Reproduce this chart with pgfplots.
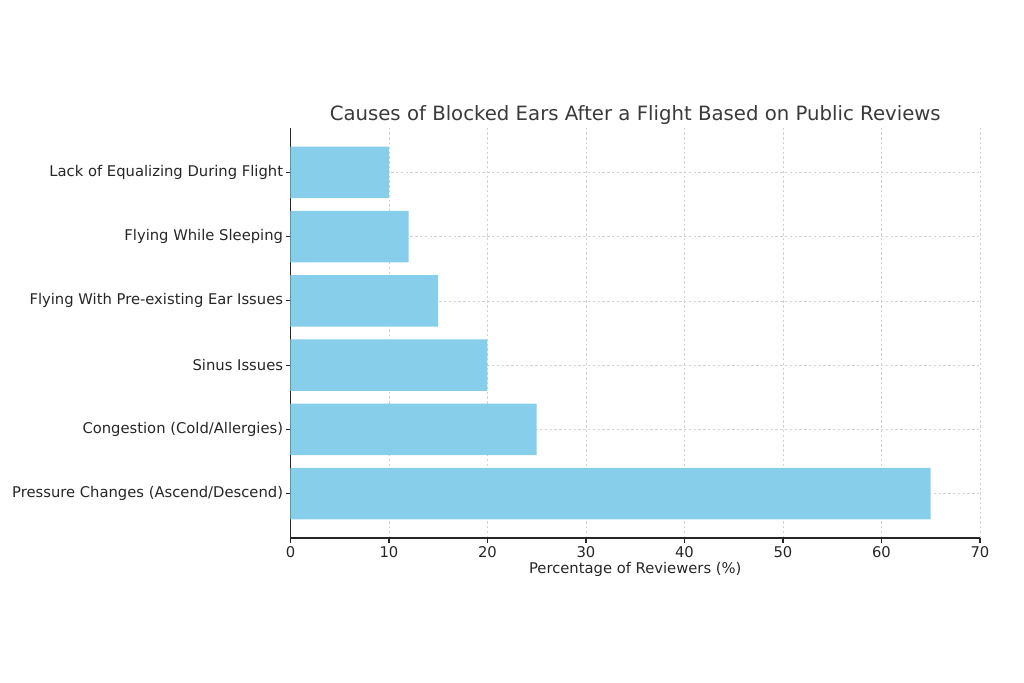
\documentclass[border=0pt]{standalone}
\usepackage{fontspec}
\setmainfont{DejaVu Sans}
\usepackage{pgfplots}
\pgfplotsset{compat=1.18}
\definecolor{skyblue}{HTML}{87CEEB}
\definecolor{txt}{HTML}{262626}
\definecolor{ttl}{HTML}{3A3A3A}
\begin{document}
\begin{tikzpicture}
\useasboundingbox (0,0) rectangle (512pt,341pt);
\begin{axis}[
  at={(145.25pt,72pt)}, anchor=south west,
  scale only axis, width=344.75pt, height=205pt,
  xmin=0, xmax=70, ymin=-0.69, ymax=5.69,
  xbar, bar width=0.8,
  axis lines*=left,
  axis line style={line width=0.56pt, color=txt},
  ytick={0,1,2,3,4,5},
  yticklabels={Pressure Changes (Ascend/Descend),Congestion (Cold/Allergies),Sinus Issues,Flying With Pre-existing Ear Issues,Flying While Sleeping,Lack of Equalizing During Flight},
  xtick={0,10,...,70},
  tick align=outside, major tick length=2.43pt,
  tick style={line width=0.56pt, color=txt},
  /pgf/number format/assume math mode=true,
  ticklabel style={font=\fontsize{7.38}{8.5}\selectfont, text=txt},
  xticklabel style={inner sep=0pt, yshift=-1.6pt},
  yticklabel style={inner sep=0pt, xshift=-1.1pt},
  xmajorgrids, ymajorgrids,
  major grid style={dash pattern=on 1.2pt off 1.2pt, color=gray!35, line width=0.35pt},
  xlabel={Percentage of Reviewers (\%)},
  xlabel style={font=\fontsize{7.38}{8.5}\selectfont, text=txt, inner sep=0pt, yshift=-2.2pt},
  title={Causes of Blocked Ears After a Flight Based on Public Reviews},
  title style={font=\fontsize{9.85}{11.5}\selectfont, text=ttl, at={(0.5,1)}, anchor=south, inner sep=0pt, yshift=-4.3pt},
]
\addplot[fill=skyblue, draw=none] coordinates {(65,0) (25,1) (20,2) (15,3) (12,4) (10,5)};
\end{axis}
\end{tikzpicture}
\end{document}
